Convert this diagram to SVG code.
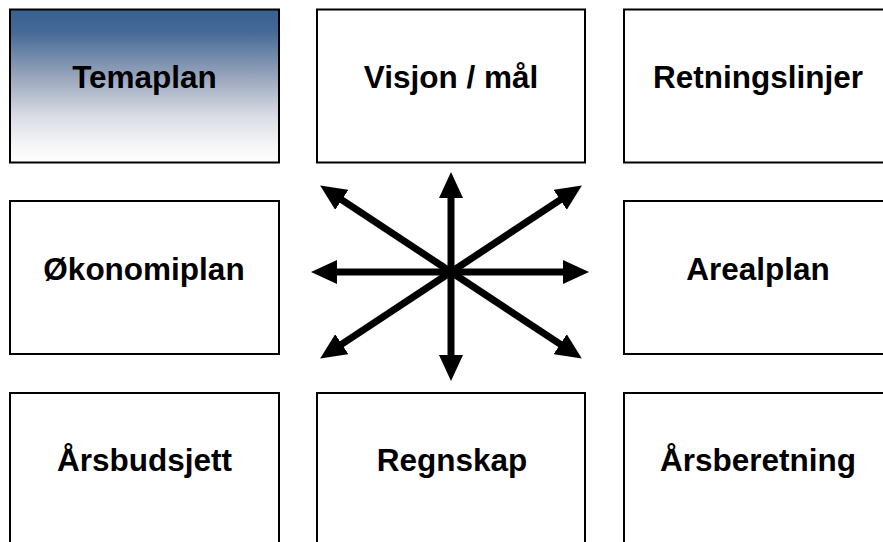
<svg xmlns="http://www.w3.org/2000/svg" width="883" height="542" viewBox="0 0 883 542">
<defs>
<linearGradient id="g1" x1="0" y1="0" x2="0" y2="1">
<stop offset="0" stop-color="#36608f"/>
<stop offset="0.15" stop-color="#466a96"/>
<stop offset="0.45" stop-color="#9ba7bd"/>
<stop offset="0.7" stop-color="#dadde5"/>
<stop offset="0.9" stop-color="#f7f7f8"/>
<stop offset="1" stop-color="#ffffff"/>
</linearGradient>
<marker id="ah" markerUnits="userSpaceOnUse" markerWidth="26" markerHeight="24" refX="10" refY="12" orient="auto">
<path d="M0,0 L26,12 L0,24 z" fill="#000"/>
</marker>
<style>
.box{fill:#fff;stroke:#000;stroke-width:2}
.lbl{font-family:"Liberation Sans",Arial,sans-serif;font-weight:bold;font-size:31.5px;text-anchor:middle;fill:#000}
.arr{stroke:#000;stroke-width:7;fill:none;marker-end:url(#ah)}
</style>
</defs>
<g id="temaplan"><rect x="10" y="9.5" width="269" height="153" class="box" style="fill:url(#g1)"/><text x="144.5" y="88.3" class="lbl">Temaplan</text></g>
<g id="visjon"><rect x="317" y="9.5" width="268" height="153" class="box"/><text x="451" y="88.3" class="lbl">Visjon / mål</text></g>
<g id="retningslinjer"><rect x="624" y="9.5" width="269" height="153" class="box"/><text x="758" y="88.3" class="lbl">Retningslinjer</text></g>
<g id="okonomiplan"><rect x="10" y="201" width="269" height="153" class="box"/><text x="144" y="279.5" class="lbl">Økonomiplan</text></g>
<g id="arealplan"><rect x="624" y="201" width="269" height="153" class="box"/><text x="758" y="279.5" class="lbl">Arealplan</text></g>
<g id="arsbudsjett"><rect x="10" y="393" width="269" height="160" class="box"/><text x="144.5" y="471" class="lbl">Årsbudsjett</text></g>
<g id="regnskap"><rect x="317" y="393" width="268" height="160" class="box"/><text x="452" y="471" class="lbl">Regnskap</text></g>
<g id="arsberetning"><rect x="624" y="393" width="269" height="160" class="box"/><text x="758" y="471" class="lbl">Årsberetning</text></g>
<g id="connectors">
<line x1="451" y1="272" x2="451" y2="188" class="arr"/>
<line x1="451" y1="272" x2="451" y2="365" class="arr"/>
<line x1="451" y1="272" x2="327" y2="272" class="arr"/>
<line x1="451" y1="272" x2="573" y2="272" class="arr"/>
<line x1="451" y1="272" x2="333.5" y2="194.3" class="arr"/>
<line x1="451" y1="272" x2="568.5" y2="194.3" class="arr"/>
<line x1="451" y1="272" x2="333.5" y2="349.7" class="arr"/>
<line x1="451" y1="272" x2="568.5" y2="349.7" class="arr"/>
</g>
</svg>
